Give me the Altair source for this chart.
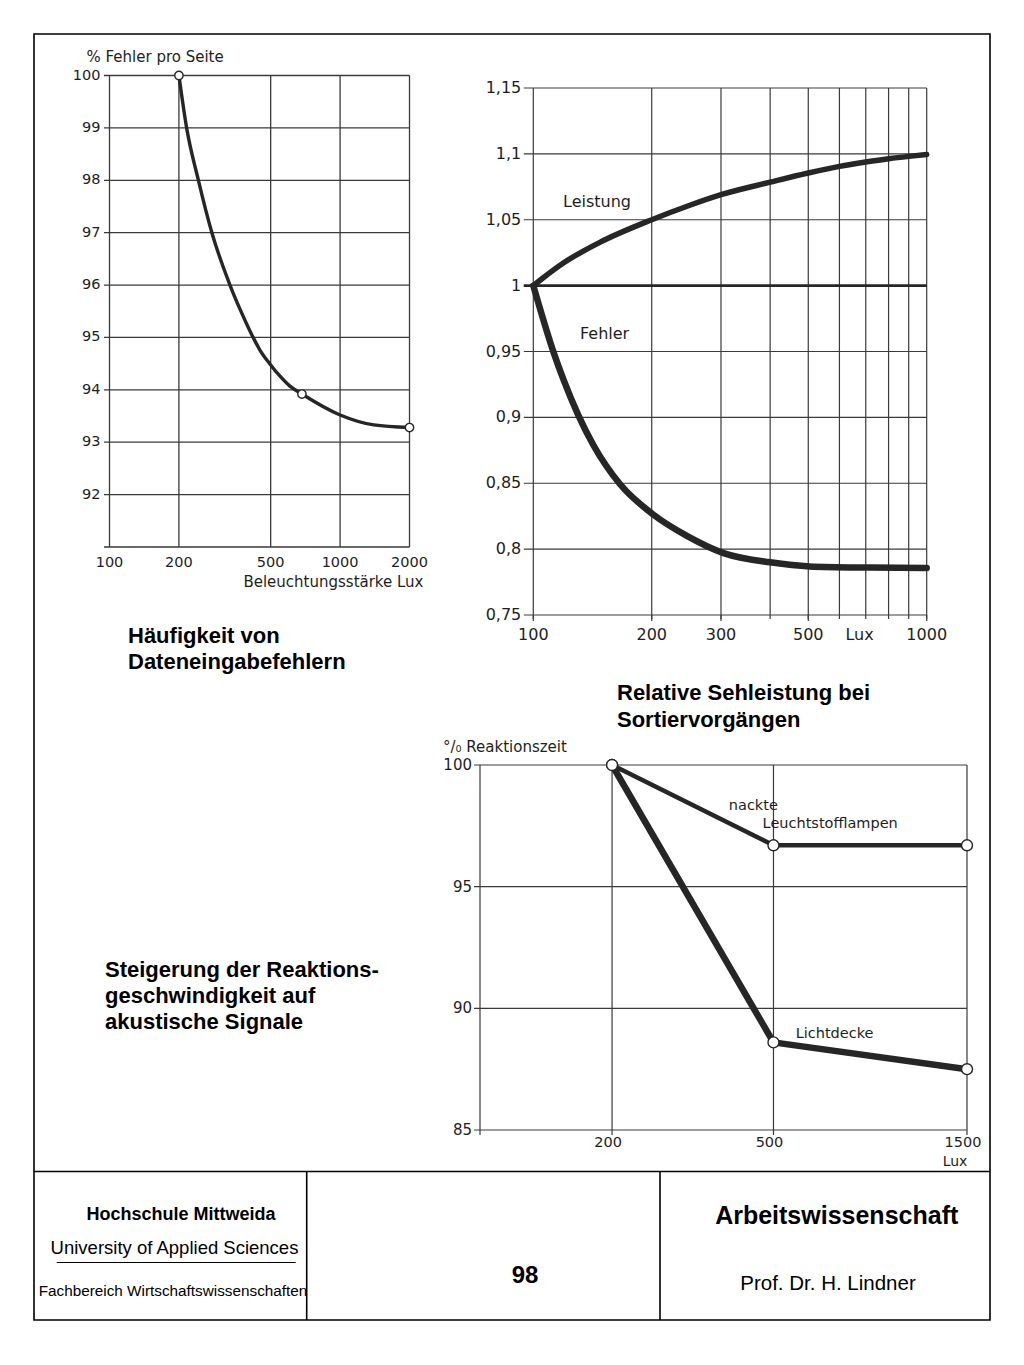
import altair as alt
import pandas as pd

W, H = 956, 1286
INK = "#262626"
GRID = "#3a3a3a"
TXT = "#1e1e1e"
TF = "DejaVu Sans"
BF = "Liberation Sans"

# ---------------- data ----------------
# Chart 1: Häufigkeit von Dateneingabefehlern
c1_lux = [200, 216, 243, 278, 333, 368, 407, 449, 497, 549, 606, 683, 1000, 1400, 2000]
c1_val = [100, 99.0, 98.0, 97.0, 96.0, 95.54, 95.12, 94.76, 94.49, 94.26, 94.07, 93.92, 93.52, 93.33, 93.28]
c1_pt_lux = [200, 683, 2000]
c1_pt_val = [100, 93.92, 93.28]
c1_xticks = [100, 200, 500, 1000, 2000]
c1_yticks = [92, 93, 94, 95, 96, 97, 98, 99, 100]

# Chart 2: Relative Sehleistung bei Sortiervorgängen
c2_lux_leistung = [100, 106, 119, 148, 200, 250, 300, 400, 500, 600, 700, 800, 900, 1000]
c2_leistung = [1.0, 1.006, 1.017, 1.033, 1.05, 1.061, 1.069, 1.0785, 1.0855, 1.0905, 1.0938, 1.0963, 1.0981, 1.0995]
c2_lux_fehler = [100, 113, 119.2, 130.2, 142.1, 166.2, 201.3, 245.7, 304.5, 400.3, 503.9, 718, 1000]
c2_fehler = [1.0, 0.948, 0.929, 0.9015, 0.879, 0.8492, 0.8265, 0.8101, 0.797, 0.79, 0.7869, 0.786, 0.7856]
c2_xticks = [100, 200, 300, 500, 1000]
c2_xgrid = [100, 200, 300, 400, 500, 600, 700, 800, 900, 1000]
c2_yticks = [0.75, 0.8, 0.85, 0.9, 0.95, 1.0, 1.05, 1.1, 1.15]

# Chart 3: Reaktionszeit
c3_lux = [200, 500, 1500]
c3_leucht = [100, 96.7, 96.7]
c3_licht = [100, 88.6, 87.5]
c3_xticks = [200, 500, 1500]
c3_yticks = [85, 90, 95, 100]

ONE = pd.DataFrame({"k": [0]})

# scale geometry: (domain0, domain1, range0, range1) in plot pixels
X1P = (100, 2000, 75.5, 375.5)
Y1P = (91, 100, 513, 41.5)
X2P = (100, 1000, 499.3, 892.7)
Y2P = (0.75, 1.15, 581, 54)
X3P = (94.5, 1500, 446, 933)
Y3P = (85, 100, 1096, 731)


def log_scale(p):
    return alt.Scale(type="log", domain=[p[0], p[1]], range=[p[2], p[3]], nice=False)


def lin_scale(p):
    return alt.Scale(domain=[p[0], p[1]], range=[p[2], p[3]], nice=False, zero=False)


def inv_log(p, px):
    d0, d1, r0, r1 = p
    return d0 * (d1 / d0) ** ((px - r0) / (r1 - r0))


def inv_lin(p, px):
    d0, d1, r0, r1 = p
    return d0 + (d1 - d0) * (px - r0) / (r1 - r0)


def vgrid(vals, lo, hi, xs, ys, w=1.2, color=GRID):
    df = pd.DataFrame({"v": vals, "lo": [lo] * len(vals), "hi": [hi] * len(vals)})
    return alt.Chart(df).mark_rule(color=color, strokeWidth=w).encode(
        x=alt.X("v:Q", scale=xs, axis=None),
        y=alt.Y("lo:Q", scale=ys, axis=None),
        y2="hi:Q",
    )


def hgrid(vals, lo, hi, xs, ys, w=1.2, color=GRID):
    df = pd.DataFrame({"v": vals, "lo": [lo] * len(vals), "hi": [hi] * len(vals)})
    return alt.Chart(df).mark_rule(color=color, strokeWidth=w).encode(
        y=alt.Y("v:Q", scale=ys, axis=None),
        x=alt.X("lo:Q", scale=xs, axis=None),
        x2="hi:Q",
    )


def ylabels(vals, texts, at_x, xs, ys, size, dx):
    df = pd.DataFrame({"v": vals, "t": texts})
    return alt.Chart(df).mark_text(align="right", baseline="middle", dx=dx, font=TF,
                                   fontSize=size, color=TXT).encode(
        x=alt.XDatum(at_x, scale=xs, axis=None),
        y=alt.Y("v:Q", scale=ys, axis=None),
        text="t:N",
    )


def xlabels(vals, texts, at_y, xs, ys, size, dy, dx=0):
    df = pd.DataFrame({"v": vals, "t": texts})
    return alt.Chart(df).mark_text(align="center", baseline="alphabetic", dx=dx, dy=dy, font=TF,
                                   fontSize=size, color=TXT).encode(
        x=alt.X("v:Q", scale=xs, axis=None),
        y=alt.YDatum(at_y, scale=ys, axis=None),
        text="t:N",
    )


def curve(xv, yv, xs, ys, w, interp="monotone"):
    df = pd.DataFrame({"x": xv, "y": yv})
    return alt.Chart(df).mark_line(color=INK, strokeWidth=w, interpolate=interp,
                                   strokeCap="round", strokeJoin="round").encode(
        x=alt.X("x:Q", scale=xs, axis=None),
        y=alt.Y("y:Q", scale=ys, axis=None),
    )


def dots(xv, yv, xs, ys, size):
    df = pd.DataFrame({"x": xv, "y": yv})
    return alt.Chart(df).mark_point(shape="circle", filled=True, fill="white", stroke=INK,
                                    strokeWidth=1.4, size=size, opacity=1).encode(
        x=alt.X("x:Q", scale=xs, axis=None),
        y=alt.Y("y:Q", scale=ys, axis=None),
    )


def note(text, x, y, xs, ys, size, align="left", dx=0, dy=0):
    return alt.Chart(ONE).mark_text(text=text, align=align, baseline="alphabetic", dx=dx, dy=dy,
                                    font=TF, fontSize=size, color=TXT).encode(
        x=alt.XDatum(x, scale=xs, axis=None),
        y=alt.YDatum(y, scale=ys, axis=None),
    )


def num(v):
    return f"{v:g}"


def de(v):
    return f"{v:g}".replace(".", ",")


# ---------------- chart 1 ----------------
X1, Y1 = log_scale(X1P), lin_scale(Y1P)
ch1 = alt.layer(
    vgrid(c1_xticks, 91, 100, X1, Y1, w=1.3),
    hgrid([91] + c1_yticks, inv_log(X1P, X1P[2] - 5.5), 2000, X1, Y1, w=1.3),
    ylabels(c1_yticks, [num(v) for v in c1_yticks], 100, X1, Y1, 14.5, -9),
    xlabels(c1_xticks, [num(v) for v in c1_xticks], 91, X1, Y1, 14.5, 20),
    curve(c1_lux, c1_val, X1, Y1, 3.4),
    dots(c1_pt_lux, c1_pt_val, X1, Y1, 70),
    note("% Fehler pro Seite", 100, 100, X1, Y1, 15, dx=-23, dy=-14),
    note("Beleuchtungsstärke Lux", 2000, 91, X1, Y1, 15, align="right", dx=14, dy=40),
)

# ---------------- chart 2 ----------------
X2, Y2 = log_scale(X2P), lin_scale(Y2P)
c2_left = inv_log(X2P, X2P[2] - 9.5)
ch2 = alt.layer(
    vgrid(c2_xgrid, inv_lin(Y2P, Y2P[2] + 4), 1.15, X2, Y2),
    vgrid(c2_xticks, inv_lin(Y2P, Y2P[2] + 6), 0.75, X2, Y2),
    hgrid(c2_yticks, c2_left, 1000, X2, Y2),
    hgrid([1.0], c2_left, 1000, X2, Y2, w=2.8, color=INK),
    ylabels(c2_yticks, [de(v) for v in c2_yticks], 100, X2, Y2, 16, -12),
    xlabels(c2_xticks, [num(v) for v in c2_xticks], 0.75, X2, Y2, 16, 25),
    curve(c2_lux_leistung, c2_leistung, X2, Y2, 5.5),
    curve(c2_lux_fehler, c2_fehler, X2, Y2, 6.5),
    note("Leistung", 119, 1.0598, X2, Y2, 16),
    note("Fehler", 131.4, 0.9596, X2, Y2, 16),
    note("Lux", 675, 0.75, X2, Y2, 16, align="center", dy=25),
)

# ---------------- chart 3 ----------------
X3, Y3 = log_scale(X3P), lin_scale(Y3P)
ch3 = alt.layer(
    vgrid([X3P[0]] + c3_xticks, inv_lin(Y3P, Y3P[2] + 5), 100, X3, Y3),
    hgrid(c3_yticks, inv_log(X3P, X3P[2] - 6), 1500, X3, Y3),
    ylabels(c3_yticks, [num(v) for v in c3_yticks], X3P[0], X3, Y3, 15, -8),
    xlabels(c3_xticks, [num(v) for v in c3_xticks], 85, X3, Y3, 14.5, 17, dx=-4),
    curve(c3_lux, c3_leucht, X3, Y3, 4.5, interp="linear"),
    curve(c3_lux, c3_licht, X3, Y3, 6.5, interp="linear"),
    dots(c3_lux, c3_leucht, X3, Y3, 120),
    dots(c3_lux, c3_licht, X3, Y3, 120),
    note("°/₀ Reaktionszeit", X3P[0], 100, X3, Y3, 15, dx=-37, dy=-13),
    note("nackte", 388, 98.15, X3, Y3, 14.5),
    note("Leuchtstofflampen", 470, 97.42, X3, Y3, 14.5),
    note("Lichtdecke", 567, 88.78, X3, Y3, 14.5),
    note("Lux", 1500, 85, X3, Y3, 14, align="center", dx=-12, dy=36),
)


# ---------------- page: captions and footer ----------------
def ptext(text, x, y, size, bold=False, align="left", lh=26):
    return alt.Chart(ONE).mark_text(text=text, align=align, baseline="alphabetic", font=BF,
                                    fontSize=size, fontWeight="bold" if bold else "normal",
                                    color="black", lineBreak="\n", lineHeight=lh).encode(
        x=alt.value(x), y=alt.value(y))


def hline(x0, x1, y, w=1.6):
    return alt.Chart(ONE).mark_rule(color="black", strokeWidth=w).encode(
        x=alt.value(x0), x2=alt.value(x1), y=alt.value(y))


def vline(x, y0, y1, w=1.6):
    return alt.Chart(ONE).mark_rule(color="black", strokeWidth=w).encode(
        x=alt.value(x), y=alt.value(y0), y2=alt.value(y1))


page = alt.layer(
    ptext("Häufigkeit von\nDateneingabefehlern", 94, 609.3, 22, bold=True),
    ptext("Relative Sehleistung bei\nSortiervorgängen", 583, 666, 22, bold=True, lh=27),
    ptext("Steigerung der Reaktions-\ngeschwindigkeit auf\nakustische Signale", 71, 942.7, 22, bold=True),
    hline(0, W, 1137.5),
    vline(272.7, 1137.5, H),
    vline(626, 1137.5, H),
    ptext("Hochschule Mittweida", 147, 1186, 18, bold=True, align="center"),
    ptext("University of Applied Sciences", 140.5, 1220, 18.5, align="center"),
    hline(22.7, 261.7, 1228.5, w=1.2),
    ptext("Fachbereich Wirtschaftswissenschaften", 139, 1262, 15.3, align="center"),
    ptext("98", 491, 1249, 24, bold=True, align="center"),
    ptext("Arbeitswissenschaft", 802.7, 1190, 25, bold=True, align="center"),
    ptext("Prof. Dr. H. Lindner", 794, 1256, 20.5, align="center"),
)

chart = alt.layer(ch1, ch2, ch3, page).resolve_scale(
    x="independent", y="independent"
).properties(
    width=W, height=H,
    padding={"left": 26, "top": 26, "right": 26, "bottom": 30},
    autosize=alt.AutoSizeParams(type="none"),
    background="white",
).configure_view(stroke="black", strokeWidth=1.6)

chart.save("out.html", embed_options={"renderer": "svg", "actions": False})
